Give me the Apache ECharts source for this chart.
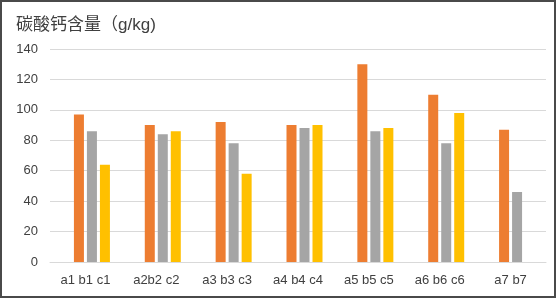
<!DOCTYPE html>
<html>
<head>
<meta charset="utf-8">
<script src="https://cdn.jsdelivr.net/npm/echarts@6/dist/echarts.min.js"></script>
<style>
  html, body {margin: 0; padding: 0; background: #fff;}
  #chart {width: 556px; height: 298px; box-sizing: border-box; border: 2px solid #4a4a4a;}
</style>
</head>
<body>
<div id="chart"></div>
<script>
// categories + values
const categories = ['a1 b1 c1', 'a2b2 c2', 'a3 b3 c3', 'a4 b4 c4', 'a5 b5 c5', 'a6 b6 c6', 'a7 b7'];
const seriesA = [97, 90, 92, 90, 130, 110, 87];
const seriesB = [86, 84, 78, 88, 86, 78, 46];
const seriesC = [64, 86, 58, 90, 88, 98, null];
// the original leaves an empty first slot in each group
const emptySlot = [null, null, null, null, null, null, null];
const yTicks = [0, 20, 40, 60, 80, 100, 120, 140];

const myChart = echarts.init(document.getElementById('chart'), null, {renderer: 'canvas'});
const font = 'Arial, "Liberation Sans", "Noto Sans CJK SC", sans-serif';

const option = {
  animation: false,
  title: {
    text: '碳酸钙含量（g/kg)',
    left: 9,
    top: 10,
    textStyle: {color: '#404040', fontSize: 17, fontWeight: 'normal', fontFamily: font},
  },
  grid: {left: 48, right: 8, top: 47, bottom: 34},
  xAxis: {
    type: 'category',
    data: categories,
    axisLine: {lineStyle: {color: '#d9d9d9', width: 1}},
    axisTick: {show: false},
    axisLabel: {color: '#404040', fontSize: 13, margin: 12, interval: 0, fontFamily: font},
  },
  yAxis: {
    type: 'value',
    min: yTicks[0],
    max: yTicks[yTicks.length - 1],
    interval: 20,
    axisLine: {show: false},
    axisTick: {show: false},
    splitLine: {lineStyle: {color: '#d9d9d9', width: 1}},
    axisLabel: {color: '#404040', fontSize: 13, margin: 12, fontFamily: font},
  },
  series: [
    {name: '', type: 'bar', data: emptySlot, barWidth: 10, barGap: '30%', itemStyle: {color: 'transparent'}},
    {name: 'a', type: 'bar', data: seriesA, barWidth: 10, barGap: '30%', itemStyle: {color: '#ed7d31'}},
    {name: 'b', type: 'bar', data: seriesB, barWidth: 10, barGap: '30%', itemStyle: {color: '#a5a5a5'}},
    {name: 'c', type: 'bar', data: seriesC, barWidth: 10, barGap: '30%', itemStyle: {color: '#ffc000'}},
  ],
};
myChart.setOption(option);
</script>
</body>
</html>
